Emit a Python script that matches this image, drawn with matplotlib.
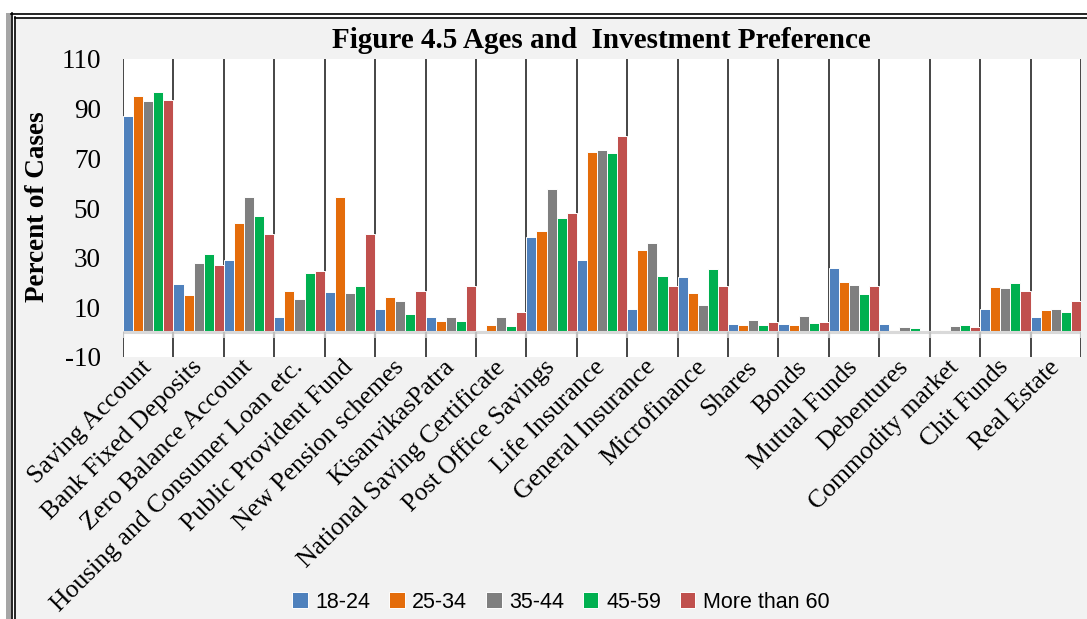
import matplotlib.pyplot as plt
import numpy as np
from matplotlib.lines import Line2D
from matplotlib.patches import Rectangle

CATEGORIES = [
    "Saving Account", "Bank Fixed Deposits", "Zero Balance Account",
    "Housing and Consumer Loan etc.", "Public Provident Fund",
    "New Pension schemes", "KisanvikasPatra", "National Saving Certificate",
    "Post Office Savings", "Life Insurance", "General Insurance",
    "Microfinance", "Shares", "Bonds", "Mutual Funds", "Debentures",
    "Commodity market", "Chit Funds", "Real Estate",
]
SERIES = ["18-24", "25-34", "35-44", "45-59", "More than 60"]
AGE_18_24 = [86.9, 19.2, 28.9, 6.3, 16.0, 9.5, 6.3, 0.0, 38.5, 28.9,
             9.5, 22.4, 3.1, 3.1, 25.7, 3.1, 0.0, 9.5, 6.3]
AGE_25_34 = [95.2, 15.0, 43.8, 16.5, 54.5, 14.2, 4.3, 2.8, 40.8, 72.5,
             33.2, 15.7, 2.8, 2.8, 20.3, 0.7, 0.7, 18.0, 9.0]
AGE_35_44 = [92.9, 27.9, 54.4, 13.2, 15.7, 12.6, 6.2, 6.2, 57.6, 73.4,
             35.8, 11.0, 5.1, 6.7, 18.9, 2.0, 2.6, 17.6, 9.5]
AGE_45_59 = [96.7, 31.4, 46.7, 23.8, 18.4, 7.5, 4.6, 2.3, 45.9, 72.1,
             22.8, 25.3, 3.0, 3.8, 15.2, 1.5, 3.0, 19.9, 8.3]
AGE_60_UP = [93.6, 27.0, 39.5, 24.8, 39.5, 16.5, 18.7, 8.3, 47.8, 78.9,
             18.7, 18.7, 3.9, 3.9, 18.7, 0.0, 1.9, 16.5, 12.4]
COLORS = ["#4F81BD", "#E46C0A", "#7F7F7F", "#00B050", "#C0504D"]

W, H = 1087, 619
SERIF = "Liberation Serif"
plt.rcParams["axes.unicode_minus"] = False


def fx(px):
    return px / W


def fy(py):
    return 1 - py / H


fig = plt.figure(figsize=(W / 100, H / 100), dpi=100, facecolor="#f2f2f2")

# outer frame: white margin, grey shadow, double black line
fig.add_artist(Rectangle((0, fy(13)), 1, 1 - fy(13), transform=fig.transFigure,
                         facecolor="white", edgecolor="none", zorder=0))
fig.add_artist(Rectangle((0, 0), fx(6), 1, transform=fig.transFigure,
                         facecolor="white", edgecolor="none", zorder=0))
fig.add_artist(Rectangle((fx(6), 0), fx(5), fy(13), transform=fig.transFigure,
                         facecolor="#a6a6a6", edgecolor="none", zorder=0))
fig.add_artist(Rectangle((fx(12), 0), 1, fy(14), transform=fig.transFigure,
                         facecolor="white", edgecolor="none", zorder=0))
fig.add_artist(Rectangle((fx(15.5), 0), 1, fy(18.5), transform=fig.transFigure,
                         facecolor="#f2f2f2", edgecolor="none", zorder=0))
for xs, ys in [((fx(11), 1), (fy(13.5), fy(13.5))),
               ((fx(14.5), 1), (fy(17.5), fy(17.5))),
               ((fx(11.5), fx(11.5)), (0, fy(13))),
               ((fx(15), fx(15)), (0, fy(17)))]:
    fig.add_artist(Line2D(xs, ys, transform=fig.transFigure, color="black",
                          lw=1.2, zorder=1))

ax = fig.add_axes([fx(123), fy(357), fx(1081) - fx(123), fy(59) - fy(357)])
ax.set_facecolor("white")

n = len(CATEGORIES)
x = np.arange(n)
width = 0.2
all_series = [AGE_18_24, AGE_25_34, AGE_35_44, AGE_45_59, AGE_60_UP]
for i, (vals, label, col) in enumerate(zip(all_series, SERIES, COLORS)):
    ax.bar(x + (i - 2) * width, vals, width=width, color=col, label=label,
           edgecolor="white", linewidth=0.7, zorder=2)

# category separators
for b in np.arange(n + 1) - 0.5:
    ax.axvline(b, color="#262626", lw=1.2, zorder=1)
    ax.plot([b, b], [0, -2.2], color="#bfbfbf", lw=1.6, zorder=4,
            solid_capstyle="butt")
ax.axhline(0, color="#d9d9d9", lw=2.2, zorder=3)

ax.set_xlim(-0.5, n - 0.5)
ax.set_ylim(-10, 110)
ax.set_yticks(np.arange(-10, 111, 20))
ax.tick_params(axis="y", length=0, pad=16)
for lab in ax.get_yticklabels():
    lab.set_fontfamily(SERIF)
    lab.set_fontsize(19.5)

ax.set_xticks(x)
ax.set_xticklabels(CATEGORIES, rotation=45, ha="right", va="center",
                   rotation_mode="anchor", fontfamily=SERIF, fontsize=18.5)
ax.tick_params(axis="x", length=0, pad=5)
for s in ax.spines.values():
    s.set_visible(False)

ax.set_ylabel("Percent of Cases", fontfamily=SERIF, fontsize=19.5,
              fontweight="bold", va="center")
ax.yaxis.set_label_coords(fx(38), fy(207), transform=fig.transFigure)

fig.text(fx(601), fy(40), "Figure 4.5 Ages and  Investment Preference",
         ha="center", va="center", fontfamily=SERIF, fontsize=21,
         fontweight="bold")

fig.legend(loc="center", bbox_to_anchor=(fx(561), fy(602)), ncol=5,
           frameon=False, prop={"family": "Liberation Sans", "size": 15.5},
           handlelength=0.7, handleheight=0.7, handletextpad=0.35,
           columnspacing=0.9)

fig.savefig("out.png", dpi=100, facecolor=fig.get_facecolor())
